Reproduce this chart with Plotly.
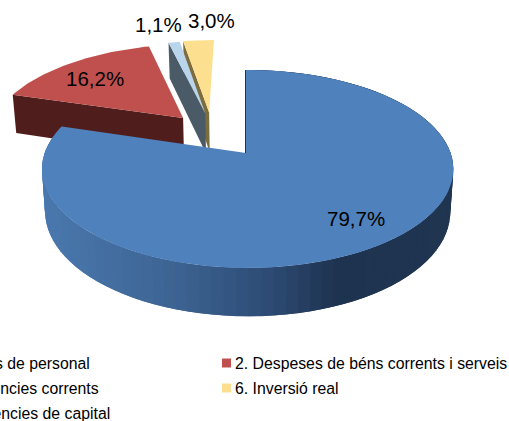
import math
import plotly.graph_objects as go

# data
categories = ["1. Despeses de personal", "2. Despeses de béns corrents i serveis",
              "4. Transferències corrents", "6. Inversió real", "7. Transferències de capital"]
values = [79.7, 16.2, 1.1, 3.0, 0.0]
top_colors = ["#4F81BD", "#C0504D", "#B9D5EC", "#FCE08F", "#9BBB59"]
side_colors = [None, "#4F1E1C", "#4A5A66", "#7D6C3C", None]
# explosion of each slice in pie-radius units (sideways, away from viewer)
explode = [(0, 0), (-0.33, 0.386), (-0.215, 0.44), (-0.195, 0.45), (0, 0)]

# projection of the tilted pie
TX, TY = 246, 153
A, B, K, L, D, S = 203, 96.4, 0.1616, -0.008, 42, 0.985


def project(u, v, bottom=False):
    w = 1 + K * v + L * u
    if bottom:
        return TX + A * S * u / w, TY + (-B * S * v + D) / w
    return TX + A * u / w, TY - B * v / w


def polar(deg, off=(0, 0), r=1.0):
    t = math.radians(deg)
    return off[0] + r * math.sin(t), off[1] + r * math.cos(t)


def lerp_hex(stops, f):
    for (f0, c0), (f1, c1) in zip(stops, stops[1:]):
        if f <= f1:
            g = (f - f0) / (f1 - f0)
            rgb = [round(int(c0[i:i + 2], 16) + g * (int(c1[i:i + 2], 16) - int(c0[i:i + 2], 16))) for i in (1, 3, 5)]
            return "rgb(%d,%d,%d)" % tuple(rgb)
    return stops[-1][1]


RIM = [(0.0, "#4A78AE"), (0.3, "#3D6493"), (0.52, "#2E4D76"), (0.7, "#1E3350"), (1.0, "#1F3550")]

fig = go.Figure()


def poly(pts, color, lw=0.0):
    xs = [p[0] for p in pts] + [pts[0][0]]
    ys = [p[1] for p in pts] + [pts[0][1]]
    fig.add_trace(go.Scatter(x=xs, y=ys, mode="lines", fill="toself", fillcolor=color,
                             line=dict(color=color, width=lw), hoverinfo="skip", showlegend=False))


# slice angular spans
spans = []
acc = 0.0
for val in values:
    spans.append((acc * 3.6, (acc + val) * 3.6))
    acc += val


def face(i):
    a0, a1 = spans[i]
    off = explode[i]
    n = max(3, int((a1 - a0) / 1.5))
    pts = [project(*off)]
    pts += [project(*polar(a0 + (a1 - a0) * j / n, off)) for j in range(n + 1)]
    return pts


def cut(i):
    a0 = spans[i][0]
    off = explode[i]
    p = polar(a0, off)
    return [project(*off), project(*p), project(*p, bottom=True), project(*off, bottom=True)]


# exploded small slices and red slice: far to near
for i in (3, 2, 1):
    poly(cut(i), side_colors[i])
    poly(face(i), top_colors[i])

# blue slice rim (each quad overlaps the next so no seams show)
a_end = spans[0][1]
n_rim = 96
for j in range(n_rim):
    d0 = a_end * j / n_rim
    d1 = a_end * min(j + 2, n_rim) / n_rim
    p0, p1 = polar(d0), polar(d1)
    q = [project(*p0), project(*p1), project(*p1, bottom=True), project(*p0, bottom=True)]
    f = (sum(pt[0] for pt in q) / 4 - 43) / (454 - 43)
    f = max(0.0, min(1.0, f))
    poly(q, lerp_hex(RIM, f))

# blue top face
poly(face(0), top_colors[0])
# thin dark edge along the start of the blue slice
edge = [project(0, 0), project(*polar(0))]
fig.add_trace(go.Scatter(x=[edge[0][0] - 0.5, edge[1][0] - 0.5], y=[edge[0][1], edge[1][1]], mode="lines",
                         line=dict(color="#1F3550", width=1), hoverinfo="skip", showlegend=False))

# data labels
label_pos = {0: (356, 218), 1: (95, 78), 2: (158, 24), 3: (211, 20)}
annotations = []
for i, (lx, ly) in label_pos.items():
    annotations.append(dict(x=lx, y=ly, xref="x", yref="y", showarrow=False,
                            text=f"{values[i]:.1f}".replace(".", ",") + "%",
                            font=dict(family="Liberation Sans", size=20.5, color="#000000")))

# legend (left column runs off the page in the reference)
legend_cells = [(0, "right", 92, 363), (1, "left", 233, 363), (2, "right", 101, 388),
                (3, "left", 233, 388), (4, "right", 112, 413)]
for i, anchor, tx, ty in legend_cells:
    annotations.append(dict(x=tx, y=ty, xref="x", yref="y", xanchor=anchor, showarrow=False,
                            text=categories[i],
                            font=dict(family="Liberation Sans", size=15.8, color="#000000")))
    if anchor == "left":
        fig.add_trace(go.Scatter(x=[tx - 6.5], y=[ty], mode="markers",
                                 marker=dict(symbol="square", size=9, color=top_colors[i]),
                                 hoverinfo="skip", showlegend=False))

fig.update_layout(
    width=509, height=421, margin=dict(l=0, r=0, t=0, b=0),
    paper_bgcolor="white", plot_bgcolor="white", showlegend=False,
    xaxis=dict(range=[0, 509], visible=False, fixedrange=True),
    yaxis=dict(range=[421, 0], visible=False, fixedrange=True),
    annotations=annotations,
)
fig.write_html("out.html", config={"displayModeBar": False},
               post_script="document.body.style.margin='0';document.body.style.overflow='hidden';")
